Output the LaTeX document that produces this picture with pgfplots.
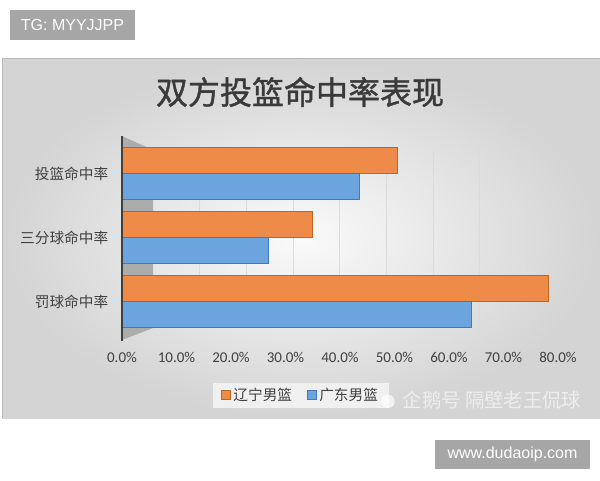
\documentclass[border=0pt]{standalone}
\usepackage{pgfplots}
\pgfplotsset{compat=1.18}
\usepackage{pgfplotstable}
\usepackage{fontspec}
\setmainfont{Carlito}
\newfontfamily\cjk{Noto Sans CJK SC}
\newfontfamily\cjktitle[FakeBold=1.2]{Noto Sans CJK SC}
\newfontfamily\arialf{Liberation Sans}

\definecolor{lnorange}{HTML}{EE8B48}
\definecolor{lnedge}{HTML}{C4651F}
\definecolor{gdblue}{HTML}{6CA4DD}
\definecolor{gdedge}{HTML}{3F78BD}
\definecolor{txt}{HTML}{404040}
\definecolor{wmgray}{HTML}{A6A6A6}

\pgfplotsset{sqlegend/.style={legend image code/.code={%
    \draw[##1, line width=0.6pt] (0pt,-3.4pt) rectangle (6.8pt,3.4pt);}}}

% shooting percentages, category 0 = top row
\pgfplotstableread{
cat ln gd
0 50.5 43.5
1 35.0 26.8
2 78.2 64.2
}\rates

\begin{document}
\begin{tikzpicture}
\path[use as bounding box, fill=white] (0,0) rectangle (450pt,-360pt);

% chart area
\shade[inner color=gray!4, outer color=gray!34] (1.5pt,-43.5pt) rectangle (450pt,-313.5pt);
\draw[gray!55] (1.5pt,-313.5pt) -- (1.5pt,-43.5pt) -- (450pt,-43.5pt);

% title
\node[text=txt!90!black, font=\cjktitle\fontsize{24}{28}\selectfont] at (225pt,-69pt) {双方投篮命中率表现};

% back wall grid
\begin{axis}[
    at={(114.75pt,-246pt)}, anchor=south west,
    scale only axis, width=280.25pt, height=133.5pt,
    xmin=0, xmax=80, ymin=0, ymax=1,
    xtick={10,20,...,80}, xticklabels={}, ytick=\empty,
    xmajorgrids, major grid style={draw=gray!28, line width=0.8pt},
    axis line style={draw=none}, major tick length=0,
]
\addplot[draw=none] coordinates {(0,0)};
\end{axis}

% side wall
\fill[gray!65] (91.5pt,-102pt) -- (114.75pt,-112.5pt) -- (114.75pt,-246pt) -- (91.5pt,-255pt) -- cycle;

\begin{axis}[
    at={(91.5pt,-255pt)}, anchor=south west,
    scale only axis, width=327pt, height=153pt,
    xmin=0, xmax=80, ymin=-0.586, ymax=2.602,
    y dir=reverse,
    xbar, bar width=19.5pt,
    xtick={0,10,...,80},
    /pgf/number format/assume math mode=true,
    xticklabel={\pgfmathprintnumber[fixed,fixed zerofill,precision=1]{\tick}\%},
    xticklabel style={font=\fontsize{11.25}{13}\selectfont, text=txt, yshift=-6pt},
    ytick={0,1,2},
    yticklabels={投篮命中率,三分球命中率,罚球命中率},
    yticklabel style={font=\cjk\fontsize{11}{13}\selectfont, text=txt, xshift=-6.8pt},
    axis line style={draw=none}, major tick length=0,
    legend columns=2,
    legend style={at={(0.41,-0.27)}, anchor=center, fill=gray!12, draw=none,
        inner xsep=6pt, font=\cjk\fontsize{11}{13}\selectfont, text=txt,
        /tikz/every even column/.append style={column sep=9pt}},
]
\addplot[fill=lnorange, draw=lnedge, line width=0.8pt, bar shift=9.75pt, sqlegend]
    table[x=ln, y=cat] {\rates};
\addlegendentry{辽宁男篮}
\addplot[fill=gdblue, draw=gdedge, line width=0.8pt, bar shift=-9.75pt, sqlegend]
    table[x=gd, y=cat] {\rates};
\addlegendentry{广东男篮}
\end{axis}

% wall edge
\draw[line width=2.2pt, color=black!75] (91.5pt,-102pt) -- (91.5pt,-256pt);

% watermarks
\fill[white, opacity=0.7] (291pt,-301pt) circle (5pt);
\node[text=white, opacity=0.6, font=\cjk\fontsize{14.5}{16}\selectfont] at (369pt,-300pt) {企鹅号\ 隔壁老王侃球};
\fill[wmgray] (7.5pt,-7.5pt) rectangle (101.25pt,-30pt);
\node[text=white, font=\arialf\fontsize{12}{14}\selectfont] at (54.4pt,-18.75pt) {TG: MYYJJPP};
\fill[wmgray] (326.25pt,-330pt) rectangle (442.5pt,-351.75pt);
\node[text=white, font=\arialf\fontsize{12}{14}\selectfont] at (384.4pt,-340.9pt) {www.dudaoip.com};
\end{tikzpicture}
\end{document}
